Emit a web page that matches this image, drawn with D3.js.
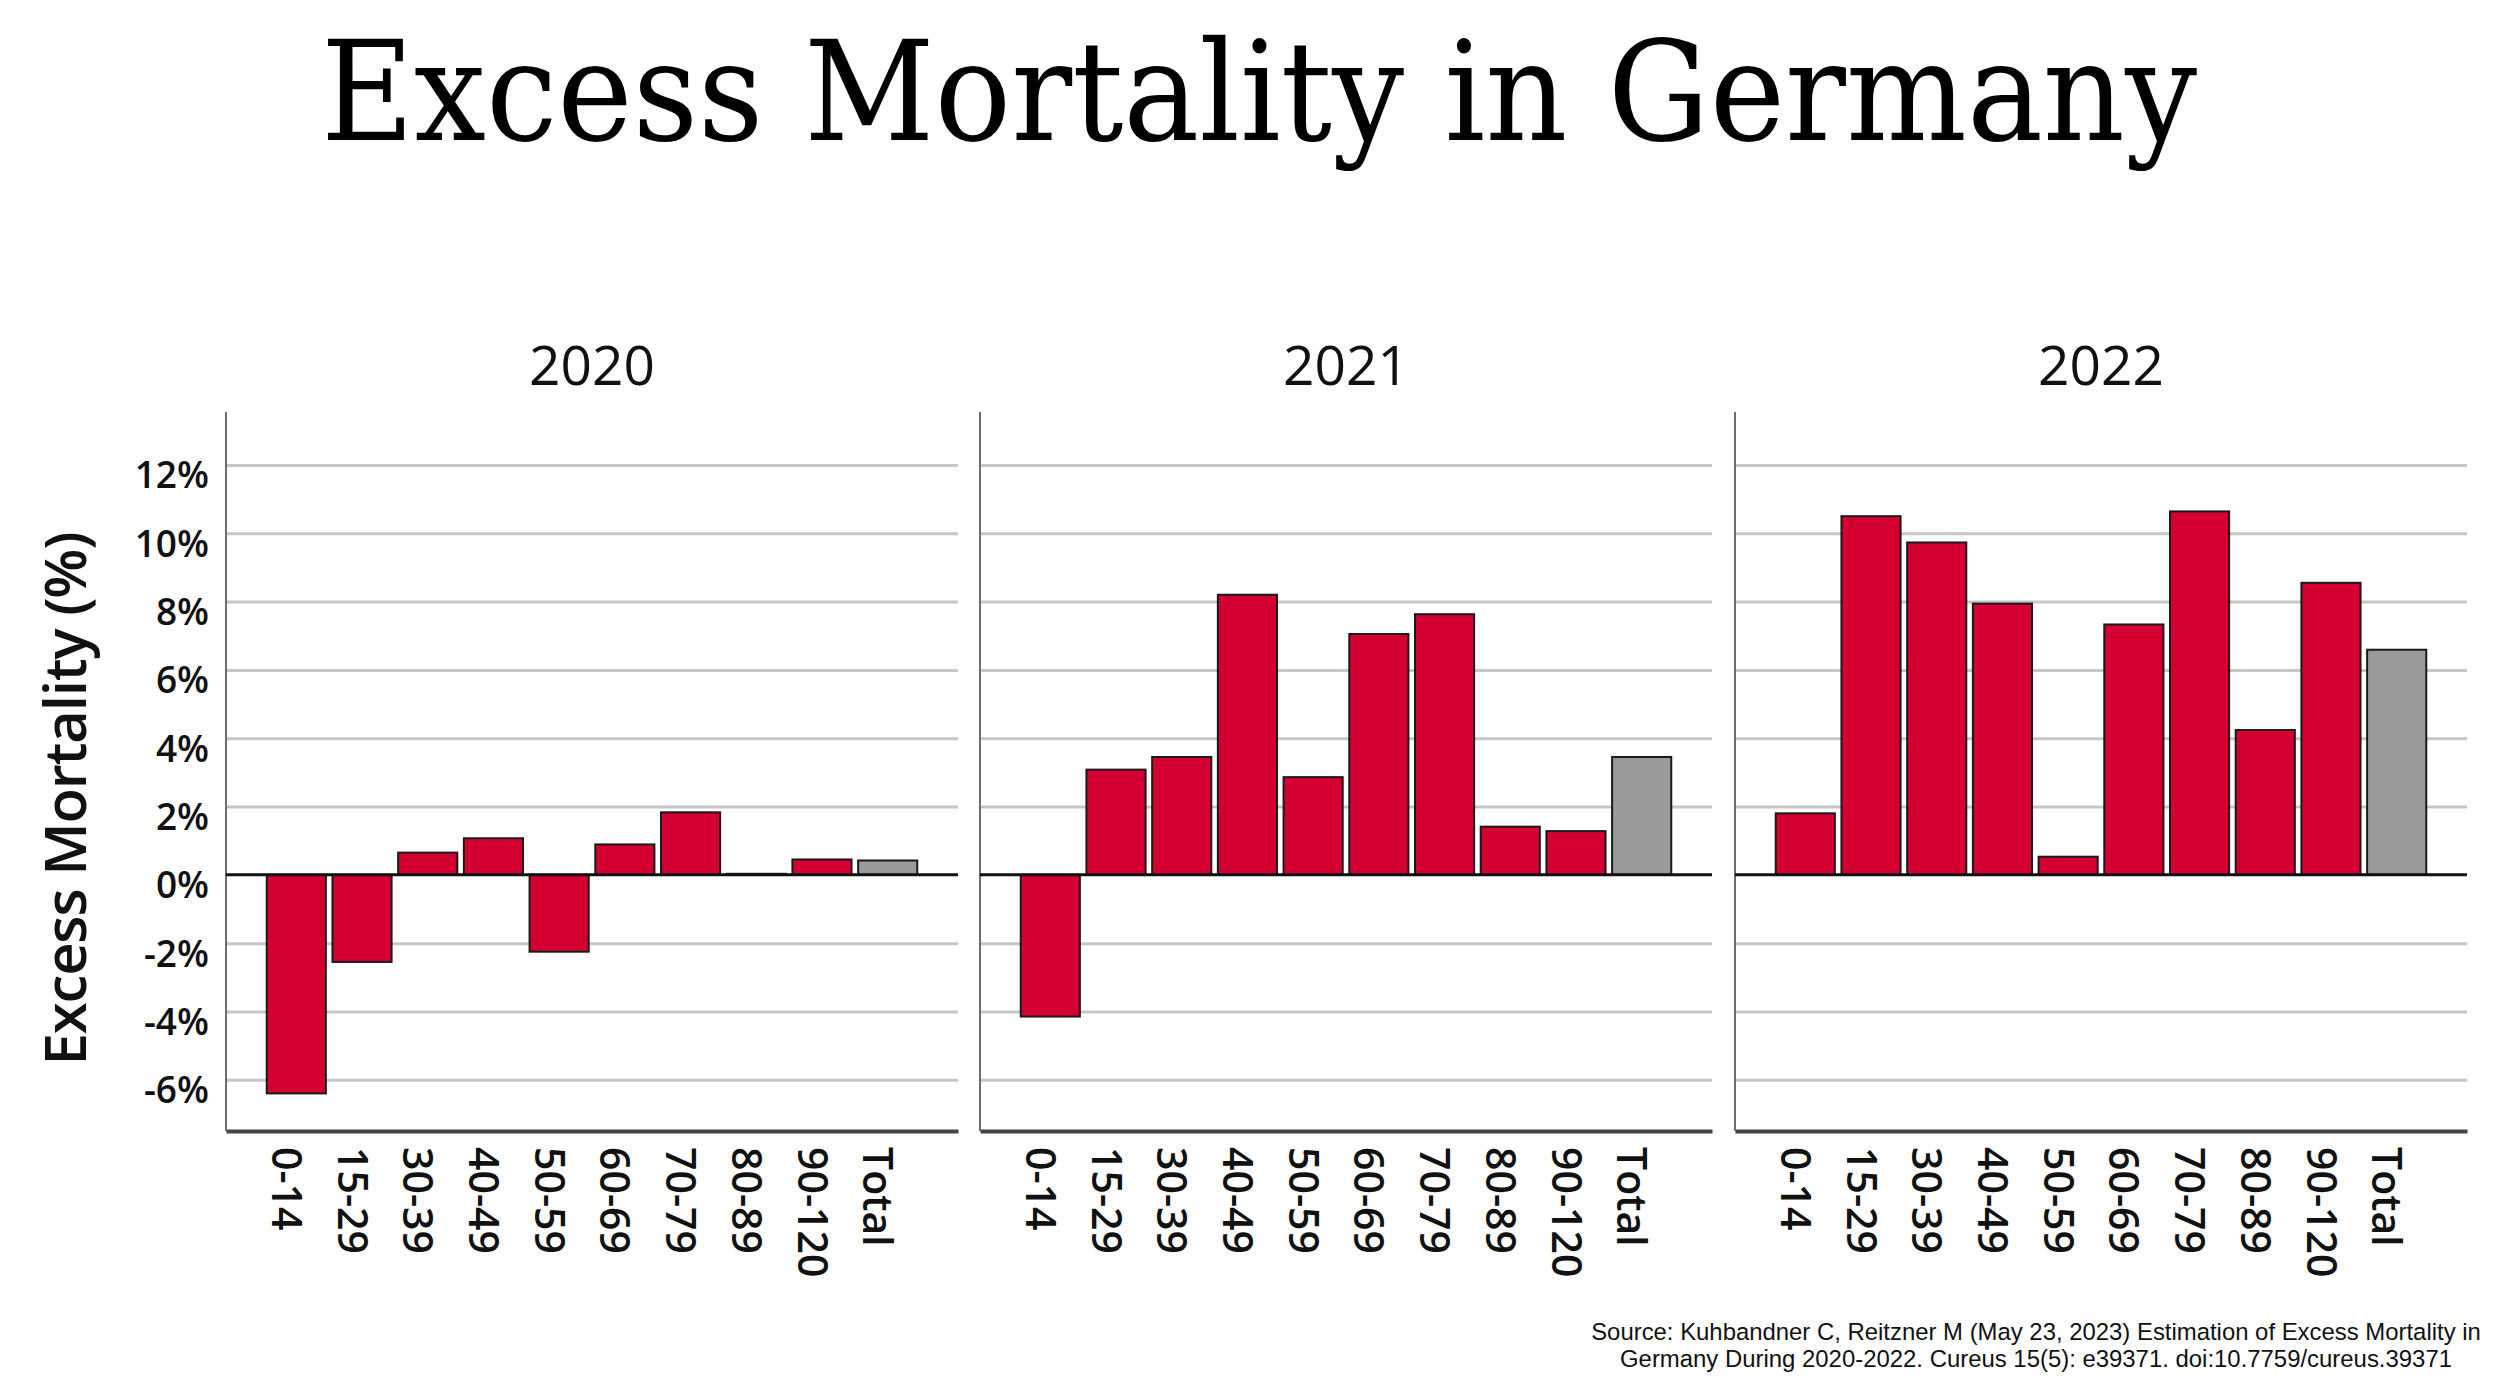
<!DOCTYPE html>
<html>
<head>
<meta charset="utf-8">
<script src="https://cdn.jsdelivr.net/npm/d3@7"></script>
<style>
  html, body { margin: 0; padding: 0; background: #fff; }
  svg { display: block; }
</style>
</head>
<body>
<svg id="chart" width="2504" height="1396"></svg>
<script>
// ---- data ----
const ageGroups = ["0-14","15-29","30-39","40-49","50-59","60-69","70-79","80-89","90-120","Total"];
const years = ["2020","2021","2022"];
const excess2020 = [-6.4, -2.55, 0.65, 1.07, -2.25, 0.89, 1.83, 0.03, 0.45, 0.42];
const excess2021 = [-4.15, 3.08, 3.45, 8.2, 2.86, 7.05, 7.63, 1.41, 1.28, 3.45];
const excess2022 = [1.8, 10.5, 9.73, 7.94, 0.53, 7.33, 10.64, 4.24, 8.55, 6.59];
const yTickValues = [-6, -4, -2, 0, 2, 4, 6, 8, 10, 12];
const titleText = "Excess Mortality in Germany";
const yAxisTitle = "Excess Mortality (%)";
const sourceLines = [
  "Source: Kuhbandner C, Reitzner M (May 23, 2023) Estimation of Excess Mortality in",
  "Germany During 2020-2022. Cureus 15(5): e39371. doi:10.7759/cureus.39371"
];

const seriesByYear = [excess2020, excess2021, excess2022];

// ---- layout ----
const svg = d3.select("#chart");
const panelX = [226, 980, 1735];
const panelW = 732;
const plotTop = 412, plotBottom = 1131;
const RED = "#d50032", GREY = "#9a9a9a";
const FONT = "'Open Sans', 'Noto Sans', sans-serif";

const y = d3.scaleLinear().domain([-7.5, 13.55]).range([plotBottom, plotTop]);
const x = d3.scaleBand().domain(ageGroups).range([0, panelW]).paddingInner(0.1).paddingOuter(0.62);

// Title
svg.append("text")
  .attr("x", 1259).attr("y", 140)
  .attr("text-anchor", "middle")
  .attr("font-family", "'DejaVu Serif', 'Liberation Serif', serif")
  .attr("font-stretch", "condensed")
  .attr("font-size", 138)
  .attr("textLength", 1876)
  .attr("lengthAdjust", "spacingAndGlyphs")
  .attr("fill", "#000")
  .text(titleText);

// Y axis title
svg.append("text")
  .attr("transform", `translate(86, 799) rotate(-90)`)
  .attr("text-anchor", "middle")
  .attr("font-family", FONT)
  .attr("font-weight", 600)
  .attr("font-size", 58)
  .attr("letter-spacing", -1.2)
  .attr("fill", "#111")
  .text(yAxisTitle);

years.forEach((yr, i) => {
  const vals = seriesByYear[i];
  const data = ageGroups.map((a, j) => ({ age: a, v: vals[j] }));
  const g = svg.append("g").attr("transform", `translate(${panelX[i]},0)`);

  // year label
  g.append("text")
    .attr("x", panelW / 2).attr("y", 385)
    .attr("text-anchor", "middle")
    .attr("font-family", FONT)
    .attr("font-size", 55)
    .attr("fill", "#111")
    .text(yr);

  // gridlines
  const grid = g.append("g")
    .call(d3.axisLeft(y).tickValues(yTickValues.filter(t => t !== 0)).tickSize(-panelW).tickFormat(""));
  grid.select(".domain").remove();
  grid.selectAll("line").attr("stroke", "#c6c6c6").attr("stroke-width", 3);

  // y axis line
  g.append("line")
    .attr("x1", 0).attr("x2", 0)
    .attr("y1", plotTop).attr("y2", plotBottom)
    .attr("stroke", "#6e6e6e").attr("stroke-width", 2);

  // tick labels on first panel
  if (i === 0) {
    const ya = g.append("g")
      .call(d3.axisLeft(y).tickValues(yTickValues).tickSize(0).tickPadding(17).tickFormat(d => d + "%"));
    ya.select(".domain").remove();
    ya.selectAll("text")
      .attr("dy", "0.62em")
      .attr("font-family", FONT)
      .attr("font-weight", 600)
      .attr("font-size", 37)
      .attr("fill", "#111");
  }

  // bars
  g.selectAll("rect.bar").data(data).join("rect")
    .attr("class", "bar")
    .attr("x", d => x(d.age))
    .attr("width", x.bandwidth())
    .attr("y", d => y(Math.max(0, d.v)))
    .attr("height", d => Math.abs(y(d.v) - y(0)))
    .attr("fill", d => d.age === "Total" ? GREY : RED)
    .attr("stroke", "#1a1a1a")
    .attr("stroke-width", 2);

  // zero line
  g.append("line")
    .attr("x1", 0).attr("x2", panelW)
    .attr("y1", y(0)).attr("y2", y(0))
    .attr("stroke", "#111").attr("stroke-width", 3);

  // x axis
  const xa = g.append("g")
    .attr("transform", `translate(0,${plotBottom})`)
    .call(d3.axisBottom(x).tickSize(0));
  xa.select(".domain")
    .attr("stroke", "#444").attr("stroke-width", 4);
  xa.selectAll("text")
    .attr("x", 0).attr("y", 0).attr("dy", "0.35em")
    .attr("transform", "translate(-10,16) rotate(90)")
    .attr("text-anchor", "start")
    .attr("font-family", FONT)
    .attr("font-weight", 600)
    .attr("font-size", 41)
    .attr("fill", "#111");
});

// Source: size fitted so that each line has the reference width
const srcTargets = [{ y: 1340, w: 890 }, { y: 1367, w: 832 }];
sourceLines.forEach((line, k) => {
  const t = svg.append("text")
    .attr("x", 2036).attr("y", srcTargets[k].y)
    .attr("text-anchor", "middle")
    .attr("font-family", "'Liberation Sans', Arial, sans-serif")
    .attr("font-size", 25)
    .attr("fill", "#111")
    .text(line);
  const len = t.node().getComputedTextLength();
  if (len > 0) t.attr("font-size", (25 * srcTargets[k].w / len).toFixed(2));
});
</script>
</body>
</html>
